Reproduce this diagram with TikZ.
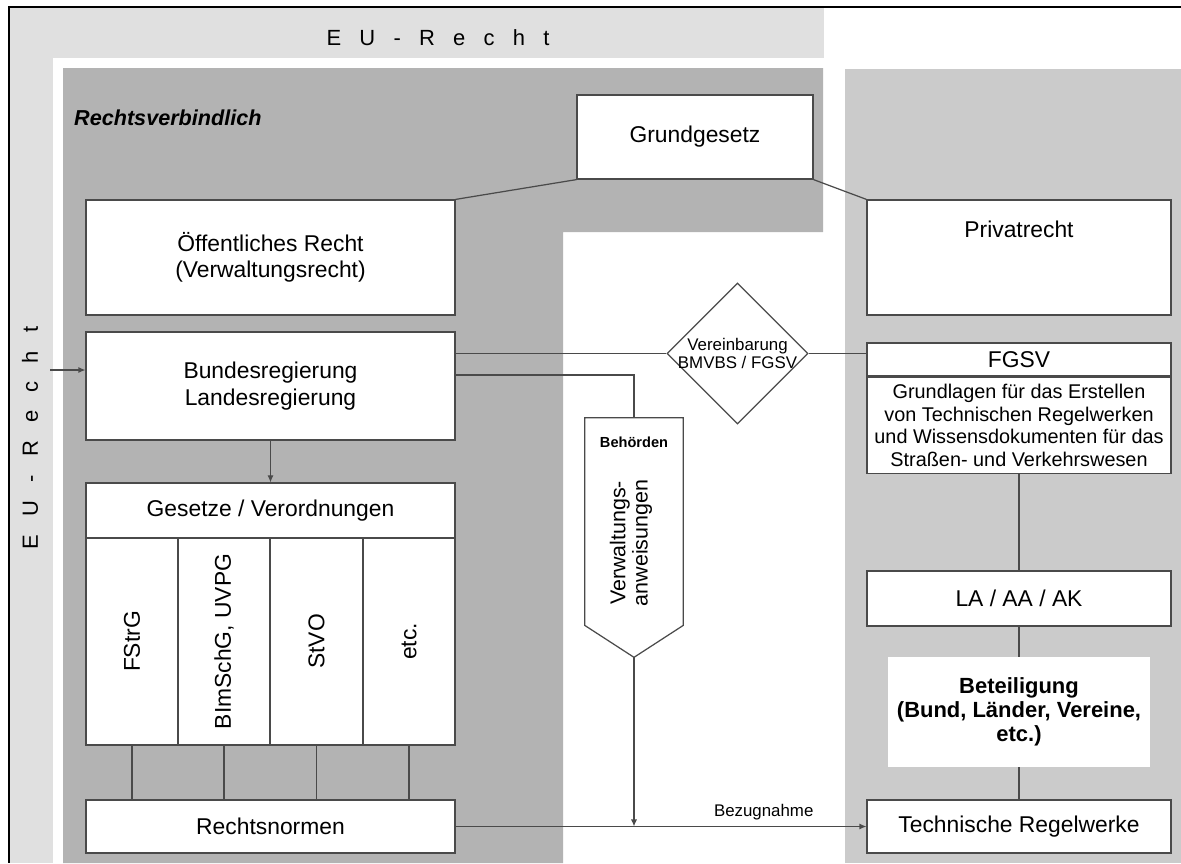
\documentclass[tikz,border=0pt]{standalone}
\usepackage{fontspec}
\setmainfont{Liberation Sans}
\usepackage{graphicx}
\usetikzlibrary{arrows.meta,shapes.geometric,positioning,calc}

\definecolor{hellgrau}{HTML}{E0E0E0}
\definecolor{dunkelgrau}{HTML}{B3B3B3}
\definecolor{mittelgrau}{HTML}{CBCBCB}
\definecolor{linie}{HTML}{4A4A4A}

\newcommand\euRecht{{\spaceskip=0.83em\relax E U - R e c h t}}

\begin{document}
\begin{tikzpicture}[x=0.02cm,y=-0.02cm,
  kasten/.style={draw=linie,fill=white,line width=0.7pt,inner sep=0pt,align=center,
    minimum width=6.08cm,font=\fontsize{13}{15}\selectfont},
  spalte/.style={kasten,minimum width=1.84cm,minimum height=4.14cm},
  verb/.style={draw=linie,line width=0.7pt},
  pfeil/.style={verb,-{Latex[length=4pt,width=3.5pt]}},
  raute/.style={diamond,draw=linie,fill=white,line width=0.7pt,aspect=1,inner sep=0pt,minimum size=2.82cm}]

	\useasboundingbox (0,0) rectangle (1181,863);

	% Hintergrund
	\fill[hellgrau] (9,7) rectangle (824,58);
	\fill[hellgrau] (9,7) rectangle (53,863);
	\fill[dunkelgrau] (63,68) -- (823,68) -- (823,232) -- (563,232) -- (563,863) -- (63,863) -- cycle;
	\fill[mittelgrau] (845,69) rectangle (1181,863);
	\draw[line width=1.2pt] (1181,7) -- (9,7) -- (9,863);

	\node[font=\fontsize{12.5}{14}\selectfont] at (438,38) {\euRecht};
	\node[rotate=90,font=\fontsize{12.5}{14}\selectfont] at (30,438) {\euRecht};
	\node[anchor=west,font=\bfseries\itshape\fontsize{12.3}{14}\selectfont] at (68,118) {Rechtsverbindlich};

	% linke Seite
	\node[kasten,minimum width=4.72cm,minimum height=1.68cm] (gg) at (695,137) {Grundgesetz};
	\node[kasten,minimum width=7.38cm,minimum height=2.3cm] (oeff) at (270.5,257.5) {Öffentliches Recht\\(Verwaltungsrecht)};
	\node[kasten,minimum width=7.38cm,minimum height=2.16cm] (bund) at (270.5,386) {Bundesregierung\\Landesregierung};
	\node[kasten,minimum width=7.38cm,minimum height=1.1cm] (gesetzekopf) at (270.5,510.5) {Gesetze / Verordnungen};
	\node[spalte] (fstrg) at (132,641.5) {\rotatebox{90}{FStrG}};
	\node[spalte] (bimsch) at (224,641.5) {\rotatebox{90}{BImSchG, UVPG}};
	\node[spalte,minimum width=1.86cm] (stvo) at (316.5,641.5) {\rotatebox{90}{StVO}};
	\node[spalte] (etc) at (409,641.5) {\rotatebox{90}{etc.}};
	\node[kasten,minimum width=7.38cm,minimum height=1.06cm] (rn) at (270.5,826.5) {Rechtsnormen};

	% Mitte
	\node[raute,label={[align=center,font=\fontsize{9.6}{10}\selectfont]center:Vereinbarung\\BMVBS / FGSV}] (vb) at (737.5,353.5) {};
	\node[fill=white,inner sep=0pt,minimum width=1.96cm,minimum height=4.14cm] (beh) at (634,521.5) {};
	\coordinate (behspitze) at ($(beh.south)+(0,32)$);
	\draw[verb] (beh.south west) -- (beh.north west) -- (beh.north east) -- (beh.south east) -- (behspitze) -- cycle;
	\node[font=\bfseries\fontsize{8.3}{10}\selectfont] at (634,442) {Behörden};
	\node[rotate=90,align=center,font=\fontsize{12.2}{12.6}\selectfont] at (631,543) {Verwaltungs-\\anweisungen};

	% rechte Seite
	\node[kasten,minimum height=2.3cm] (priv) at (1019,257.5) {};
	\node[font=\fontsize{13}{15}\selectfont] at ($(priv.north)+(0,30)$) {Privatrecht};
	\node[kasten,minimum height=0.66cm] (fgsvkopf) at (1019,359.5) {FGSV};
	\node[kasten,minimum height=1.92cm,below=0pt of fgsvkopf,font=\fontsize{11.3}{12.8}\selectfont] (fgsv)
		{Grundlagen für das Erstellen\\von Technischen Regelwerken\\und Wissensdokumenten für das\\Straßen- und Verkehrswesen};
	\node[kasten,minimum height=1.1cm] (la) at (1019,598.5) {LA / AA / AK};
	\node[fill=white,inner sep=0pt,minimum width=5.24cm,minimum height=2.2cm,align=center,
		font=\bfseries\fontsize{12.5}{13.7}\selectfont] (bet) at (1019,712) {Beteiligung\\(Bund, Länder, Vereine,\\etc.)};
	\node[kasten,minimum height=1.06cm] (tr) at (1019,826.5) {Technische Regelwerke};

	% Verbindungen
	\draw[verb] (gg.south west) -- (oeff.north east);
	\draw[verb] (gg.south east) -- (priv.north west);
	\coordinate (eu) at (50,370);
	\draw[pfeil] (eu) -- (eu -| bund.west);
	\draw[verb] (vb.west -| bund.east) -- (vb.west);
	\draw[verb] (vb.east) -- (vb.east -| fgsvkopf.west);
	\draw[verb] ($(bund.east)+(0,-11)$) -| (beh.north);
	\draw[pfeil] (bund.south) -- (gesetzekopf.north);
	\foreach \n in {fstrg,bimsch,stvo,etc}
		\draw[verb] (\n.south) -- (\n.south |- rn.north);
	\draw[pfeil] (rn.east) -- (tr.west) node[pos=0.75,above,font=\fontsize{9.6}{11}\selectfont] {Bezugnahme};
	\draw[pfeil] (behspitze) -- (behspitze |- rn.east);
	\draw[verb] (fgsv.south) -- (la.north);
	\draw[verb] (la.south) -- (bet.north);
	\draw[verb] (bet.south) -- (tr.north);

\end{tikzpicture}
\end{document}
